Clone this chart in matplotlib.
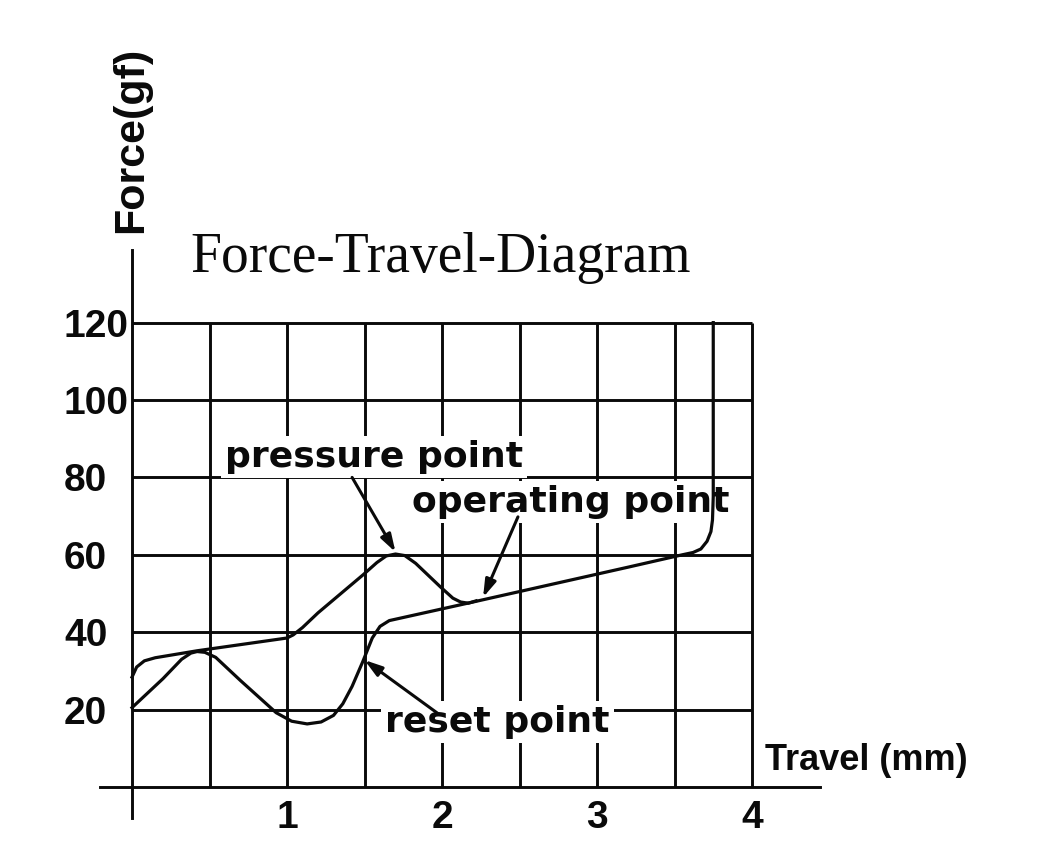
import numpy as np
import matplotlib
matplotlib.use("Agg")
import matplotlib.pyplot as plt

# ---- data ----
x_ticks = [1, 2, 3, 4]
y_ticks = [20, 40, 60, 80, 100, 120]
x_grid = [0.5, 1.0, 1.5, 2.0, 2.5, 3.0, 3.5, 4.0]
y_grid = [20, 40, 60, 80, 100, 120]

curve_a_x = [0, 0.2, 0.32, 0.38, 0.42, 0.47, 0.54, 0.7, 0.93, 1.03, 1.13, 1.22, 1.3, 1.36,
             1.42, 1.49, 1.55, 1.6, 1.66, 1.75, 2.2, 2.7, 3.2, 3.55, 3.62, 3.67, 3.71, 3.735, 3.745, 3.75, 3.75]
curve_a_y = [20.5, 28, 33, 34.6, 35, 34.8, 33.5, 27.5, 19.2, 17, 16.3, 16.8, 18.5, 21.5,
             26, 32.5, 38.5, 41.5, 43, 43.8, 47.8, 52.3, 56.8, 60, 60.6, 61.5, 63.5, 66, 69, 75, 120]

curve_b_x = [0, 0.03, 0.08, 0.15, 0.42, 1.0, 1.04, 1.1, 1.2, 1.49, 1.58, 1.64, 1.7, 1.76,
             1.83, 1.99, 2.07, 2.12, 2.17, 2.22]
curve_b_y = [28.4, 31, 32.6, 33.4, 35.2, 38.5, 39.3, 41.2, 45, 54.8, 58, 59.7, 60.2, 59.8,
             57.8, 51.7, 48.8, 47.8, 47.5, 48.1]

labels = ["pressure point", "operating point", "reset point"]
label_pos = [(0.60, 82.7), (1.806, 71.1), (1.632, 14.2)]
arrow_tail = [(1.42, 80.0), (2.49, 69.8), (1.97, 19.1)]
arrow_head = [(1.70, 60.7), (2.265, 49.0), (1.50, 32.8)]

title = "Force-Travel-Diagram"
xlabel = "Travel (mm)"
ylabel = "Force(gf)"

# ---- figure ----
fig = plt.figure(figsize=(10.45, 8.63), dpi=100)
ax = fig.add_axes([0, 0, 1, 1])
px_x, px_y = 155.0, 3.87
ax.set_xlim(-132 / px_x, (1045 - 132) / px_x)
ax.set_ylim(-(863 - 787) / px_y, 787 / px_y)

ink = "#0a0a0a"
lw_grid = 2.1

for s in ["top", "right"]:
    ax.spines[s].set_visible(False)
ax.spines["left"].set_position(("data", 0))
ax.spines["bottom"].set_position(("data", 0))
ax.spines["left"].set_bounds(-8.0, 138.8)
ax.spines["bottom"].set_bounds(-0.206, 4.44)
for s in ["left", "bottom"]:
    ax.spines[s].set_linewidth(lw_grid)
    ax.spines[s].set_color(ink)

ax.vlines(x_grid, 0, 120, colors=ink, lw=lw_grid, zorder=1)
ax.hlines(y_grid, 0, 4, colors=ink, lw=lw_grid, zorder=1)

ax.set_xticks(x_ticks)
ax.set_xticklabels([str(v) for v in x_ticks])
ax.set_yticks(y_ticks)
ax.set_yticklabels([str(v) for v in y_ticks])
ax.tick_params(axis="both", length=0)
ax.tick_params(axis="x", pad=9)
ax.tick_params(axis="y", pad=49)
for lab in ax.get_yticklabels():
    lab.set_horizontalalignment("left")
    lab.set_fontfamily("Liberation Sans")
    lab.set_fontweight("bold")
    lab.set_fontsize(28)
    lab.set_color(ink)
for lab in ax.get_xticklabels():
    lab.set_fontfamily("Liberation Sans")
    lab.set_fontweight("bold")
    lab.set_fontsize(28)
    lab.set_color(ink)

# curves
ax.plot(curve_a_x, curve_a_y, color=ink, lw=2.3, zorder=4, solid_joinstyle="round")
ax.plot(curve_b_x, curve_b_y, color=ink, lw=2.3, zorder=4, solid_joinstyle="round")

# labels with white boxes
for txt, (lx, ly) in zip(labels, label_pos):
    ax.text(lx, ly, txt, ha="left", va="baseline", fontsize=26, fontweight="bold",
            family="DejaVu Sans", color=ink, zorder=3,
            bbox=dict(boxstyle="square,pad=0.12", fc="white", ec="none"))

for (tx, ty), (hx, hy) in zip(arrow_tail, arrow_head):
    ax.annotate("", xy=(hx, hy), xytext=(tx, ty),
                arrowprops=dict(arrowstyle="-|>,head_length=0.7,head_width=0.22",
                                color=ink, lw=2.2, shrinkA=0, shrinkB=0,
                                mutation_scale=15), zorder=5)

ax.text(0.374, 133.1, title, ha="left", va="baseline", fontsize=40,
        family="Liberation Serif", color=ink)
ax.text(4.084, 4.4, xlabel, ha="left", va="baseline", fontsize=26,
        family="Liberation Sans", fontweight="bold", color=ink)
ax.text(-0.006, 167.2, ylabel, ha="center", va="center", rotation=90, fontsize=31,
        family="Liberation Sans", fontweight="bold", color=ink)

fig.savefig("out.png", dpi=100, facecolor="white")
